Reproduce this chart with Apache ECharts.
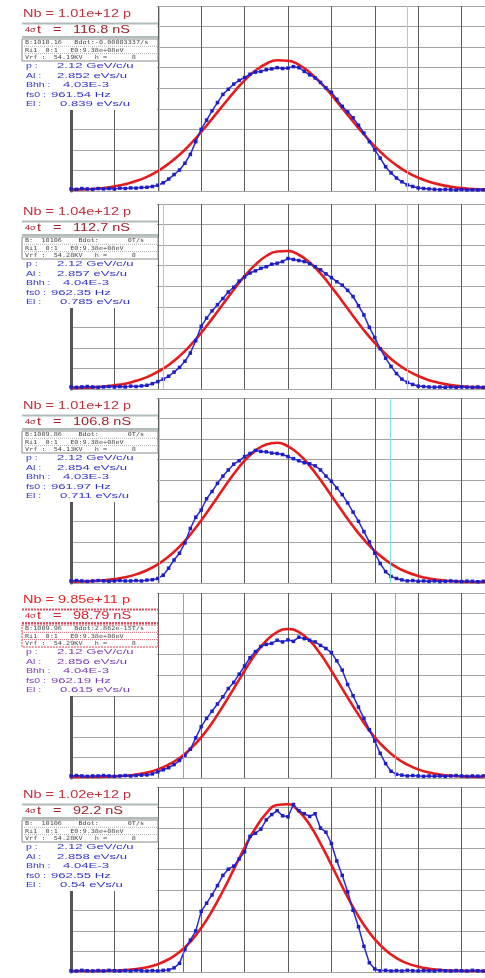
<!DOCTYPE html>
<html><head><meta charset="utf-8">
<script src="https://cdn.jsdelivr.net/npm/echarts@6/dist/echarts.min.js"></script>
<style>html,body{margin:0;padding:0;background:#fff}#c{width:485px;height:978px}</style>
</head><body><div id="c"></div>
<script>
// time axis (ns) of measured profile points
const xsMeas = [-100,-97.5,-95,-92.5,-90,-87.5,-85,-82.5,-80,-77.5,
 -75,-72.5,-70,-67.5,-65,-62.5,-60,-57.5,-55,-52.5,
 -50,-47.5,-45,-42.5,-40,-37.5,-35,-32.5,-30,-27.5,
 -25,-22.5,-20,-17.5,-15,-12.5,-10,-7.5,-5,-2.5,
 0,2.5,5,7.5,10,12.5,15,17.5,20,22.5,
 25,27.5,30,32.5,35,37.5,40,42.5,45,47.5,
 50,52.5,55,57.5,60,62.5,65,67.5,70,72.5,
 75,77.5,80,82.5,85,87.5,90];
// time axis (ns) of fitted curve points
const xsFit = [-100,-95,-90,-85,-80,-75,-70,-65,-60,-55,-50,-45,-40,-35,-30,-25,-20,-15,-10,-5,
 0,5,10,15,20,25,30,35,40,45,50,55,60,65,70,75,80,85,90];

const meas1 = [0.1,0.08,0.12,0.1,0.08,0.12,0.1,0.12,0.1,0.14,
 0.12,0.15,0.14,0.17,0.18,0.22,0.28,0.4,0.58,0.8,
 1.02,1.35,1.78,2.4,3.0,3.45,3.9,4.3,4.7,4.95,
 5.2,5.38,5.52,5.68,5.78,5.82,5.9,5.94,6.0,5.96,
 5.98,6.05,6.0,5.82,5.65,5.5,5.28,5.02,4.8,4.46,
 4.12,3.85,3.56,3.2,2.82,2.4,2.0,1.6,1.18,0.88,
 0.63,0.45,0.3,0.22,0.15,0.12,0.1,0.08,0.06,0.08,
 0.06,0.05,0.07,0.05,0.06,0.05,0.06];
const meas2 = [0.1,0.08,0.1,0.12,0.1,0.08,0.1,0.12,0.1,0.12,
 0.1,0.14,0.12,0.15,0.18,0.26,0.36,0.48,0.62,0.82,
 1.05,1.35,1.75,2.35,3.05,3.45,3.8,4.1,4.4,4.72,
 4.95,5.25,5.45,5.64,5.75,5.87,5.95,6.07,6.12,6.2,
 6.35,6.3,6.25,6.2,6.1,5.95,5.8,5.6,5.42,5.22,
 5.05,4.8,4.5,4.05,3.6,3.0,2.5,1.96,1.5,1.1,
 0.75,0.48,0.32,0.22,0.14,0.12,0.1,0.09,0.1,0.08,
 0.1,0.08,0.1,0.09,0.08,0.1,0.08];
const meas3 = [0.1,0.12,0.1,0.08,0.1,0.12,0.1,0.08,0.1,0.12,
 0.1,0.1,0.12,0.1,0.14,0.16,0.22,0.38,0.72,1.12,
 1.45,1.95,2.65,3.2,3.55,4.1,4.45,4.85,5.2,5.5,
 5.78,5.95,6.15,6.3,6.45,6.4,6.38,6.32,6.3,6.25,
 6.15,6.05,5.95,5.85,5.8,5.7,5.5,5.2,4.95,4.62,
 4.3,3.9,3.45,3.0,2.5,2.0,1.45,0.95,0.55,0.32,
 0.22,0.15,0.1,0.12,0.08,0.1,0.08,0.1,0.07,0.08,
 0.1,0.08,0.07,0.09,0.08,0.06,0.08];
const meas4 = [0.1,0.12,0.1,0.08,0.1,0.1,0.12,0.1,0.08,0.1,
 0.12,0.1,0.12,0.14,0.15,0.2,0.3,0.4,0.5,0.65,
 0.85,1.1,1.4,1.95,2.5,2.9,3.25,3.6,3.95,4.35,
 4.65,5.05,5.45,5.85,6.15,6.4,6.5,6.55,6.7,6.62,
 6.72,6.65,6.85,6.78,6.7,6.62,6.45,6.3,6.1,5.7,
 5.25,4.55,4.0,3.45,2.9,2.35,1.8,1.2,0.7,0.33,
 0.18,0.14,0.1,0.12,0.1,0.08,0.1,0.09,0.1,0.08,
 0.1,0.12,0.1,0.08,0.1,0.09,0.1];
const meas5 = [0.06,0.05,0.08,0.06,0.05,0.07,0.05,0.08,0.06,0.05,
 0.07,0.05,0.08,0.06,0.05,0.07,0.05,0.08,0.1,0.2,
 0.42,1.1,1.55,2.0,2.95,3.35,3.75,4.2,4.7,5.0,
 5.15,5.5,5.85,6.6,6.75,6.95,7.4,7.66,7.85,7.6,
 7.55,8.15,7.85,7.7,7.57,7.7,7.0,6.8,6.25,5.4,
 4.7,3.9,3.0,2.2,1.25,0.45,0.15,0.06,0.08,0.05,
 0.07,0.05,0.08,0.06,0.05,0.07,0.06,0.05,0.08,0.06,
 0.05,0.07,0.06,0.05,0.08,0.06,0.05];

const fit1 = [0.06,0.07,0.1,0.15,0.23,0.33,0.49,0.69,0.97,1.33,1.76,2.28,2.87,3.51,4.16,4.8,5.38,5.86,6.19,6.36,
 6.34,6.14,5.77,5.27,4.68,4.03,3.38,2.75,2.17,1.67,1.25,0.91,0.65,0.45,0.31,0.21,0.14,0.1,0.07];
const fit2 = [0.05,0.06,0.08,0.12,0.18,0.26,0.4,0.58,0.84,1.17,1.6,2.12,2.73,3.41,4.12,4.83,5.49,6.05,6.47,6.69,
 6.71,6.53,6.15,5.62,4.97,4.27,3.55,2.86,2.24,1.7,1.25,0.9,0.63,0.43,0.29,0.19,0.13,0.09,0.06];
const fit3 = [0.06,0.07,0.09,0.13,0.19,0.28,0.42,0.62,0.91,1.29,1.77,2.36,3.04,3.79,4.56,5.3,5.95,6.44,6.74,6.82,
 6.65,6.27,5.7,5.01,4.25,3.49,2.76,2.11,1.56,1.12,0.77,0.52,0.34,0.22,0.14,0.09,0.06,0.05,0.05];
const fit4 = [0.05,0.05,0.05,0.06,0.08,0.11,0.17,0.27,0.42,0.65,0.97,1.42,1.98,2.68,3.49,4.35,5.22,6.03,6.68,7.1,
 7.25,7.1,6.68,6.03,5.22,4.35,3.49,2.68,1.98,1.42,0.97,0.65,0.42,0.27,0.17,0.11,0.08,0.06,0.05];
const fit5 = [0.05,0.05,0.05,0.06,0.07,0.09,0.15,0.23,0.38,0.62,0.97,1.47,2.14,2.97,3.94,4.99,6.05,6.99,7.72,8.12,
 8.16,7.82,7.16,6.25,5.21,4.15,3.15,2.29,1.59,1.06,0.68,0.42,0.26,0.16,0.1,0.07,0.06,0.05,0.05];

// cursor positions (ns)
const cursors1 = [-59.4, 54.8];
const cursors2 = [-57.6, 54.8];
const cursors3 = [-59.4, 47.0];
const cursors4 = [-48.4, 49.3];
const cursors5 = [-48.4, 42.9];

// texts
const nbTexts = ['Nb = 1.01e+12 p','Nb = 1.04e+12 p','Nb = 1.01e+12 p','Nb = 9.85e+11 p','Nb = 1.02e+12 p'];
const sigmaTexts = ['116.8 nS','112.7 nS','106.8 nS','98.79 nS','92.2 nS'];
const bRows = ['B:1010.16   Bdot:-0.00083337/s','B:  10106    Bdot:       0T/s','B:1009.86    Bdot:       0T/s','B:1009.96   Bdot:2.862e-15T/s','B:  10106    Bdot:       0T/s'];
const riRows = ['Ri1  0:1   E0:9.38e+08eV','Ri1  0:1   E0:9.38e+08eV','Ri1  0:1   E0:9.38e+08eV','Ri1  0:1   E0:9.38e+08eV','Ri1  0:1   E0:9.38e+08eV'];
const vrfRows = ['Vrf :  54.19KV   h =      8','Vrf :  54.28KV   h =      8','Vrf :  54.13KV   h =      8','Vrf :  54.29KV   h =      8','Vrf :  54.28KV   h =      8'];
const paramLabels = ['p :','Al :','Bhh :','fs0 :','El :'];
const pVals = ['2.12 GeV/c/u','2.12 GeV/c/u','2.12 GeV/c/u','2.12 GeV/c/u','2.12 GeV/c/u'];
const alVals = ['2.852 eVs/u','2.857 eVs/u','2.854 eVs/u','2.856 eVs/u','2.858 eVs/u'];
const bhhVals = ['4.03E-3','4.04E-3','4.03E-3','4.04E-3','4.04E-3'];
const fs0Vals = ['961.54 Hz','962.35 Hz','961.97 Hz','962.19 Hz','962.55 Hz'];
const elVals = ['0.839 eVs/u','0.785 eVs/u','0.711 eVs/u','0.615 eVs/u','0.54 eVs/u'];

const measAll = [meas1, meas2, meas3, meas4, meas5];
const fitAll = [fit1, fit2, fit3, fit4, fit5];
const cursorAll = [cursors1, cursors2, cursors3, cursors4, cursors5];

// layout
const panelTop = [6, 204, 398, 593, 787];
const panelH = 185;
const textY = [14, 212, 406, 600, 795];
const cursorColor = ['#7fdde6','#7fdde6','#7fdde6','#9a9ae6','#5a5ad8'];
const valX = [57, 57, 63, 51, 60];
const rowOff = [52, 61.5, 71, 80.5, 90];

const grids = [], xAxes = [], yAxes = [], series = [], graphics = [];
for (let i = 0; i < 5; i++) {
  grids.push({left: 71, right: 0, top: panelTop[i], height: panelH});
  xAxes.push({type:'value', gridIndex:i, min:-100, max:90.8, interval:20,
    axisLine:{show:false}, axisTick:{show:false}, axisLabel:{show:false},
    splitLine:{show:true, lineStyle:{color:'#5c5c5c', width:1}}});
  yAxes.push({type:'value', gridIndex:i, min:0, max:9, interval:1,
    axisLine:{show:true, onZero:false, lineStyle:{color:'#555', width:3}}, axisTick:{show:false}, axisLabel:{show:false},
    splitLine:{show:true, lineStyle:{color:'#a4a4a4', width:1}}});
  series.push({type:'line', xAxisIndex:i, yAxisIndex:i, z:3, smooth:true, symbol:'none',
    data: xsFit.map((x, k) => [x, fitAll[i][k]]),
    lineStyle:{color:'#e61c1c', width:2.6},
    markLine:{silent:true, symbol:'none', animation:false, label:{show:false},
      lineStyle:{color:cursorColor[i], width:1, type:'solid'},
      data: cursorAll[i].map(v => ({xAxis: v}))}});
  series.push({type:'line', xAxisIndex:i, yAxisIndex:i, z:4, symbol:'rect', symbolSize:3.5,
    data: xsMeas.map((x, k) => [x, measAll[i][k]]),
    lineStyle:{color:'#2a2ad4', width:1.5}, itemStyle:{color:'#1e1ec4'}});

  // text panel
  const ty = textY[i];
  const hi = (i === 3);
  const coverTop = i === 0 ? 0 : ty - 11;
  graphics.push({type:'rect', z:100, shape:{x:0, y:coverTop, width:157, height:ty + 96 - coverTop}, style:{fill:'#fff'}});
  const sepColor = hi ? '#e05060' : '#b0bcbc';
  graphics.push({type:'line', z:101, shape:{x1:22, y1:ty+9.5, x2:158, y2:ty+9.5}, style:{stroke:sepColor, lineWidth:2, lineDash: hi ? [2,1] : null}});
  graphics.push({type:'line', z:101, shape:{x1:22, y1:ty+23, x2:158, y2:ty+23}, style:{stroke:sepColor, lineWidth:2, lineDash: hi ? [2,1] : null}});
  graphics.push({type:'rect', z:101, shape:{x:22, y:ty+25, width:136, height:22}, style:{fill:'none', stroke: hi ? '#e04050' : '#8a8a8a', lineWidth:1, lineDash: hi ? [2,1] : null}});
  graphics.push({type:'line', z:101, shape:{x1:22, y1:ty+32.3, x2:158, y2:ty+32.3}, style:{stroke: hi ? '#e07080' : '#b0b0b0', lineWidth:1, lineDash:[1,1]}});
  graphics.push({type:'line', z:101, shape:{x1:22, y1:ty+39.6, x2:158, y2:ty+39.6}, style:{stroke: hi ? '#e07080' : '#b0b0b0', lineWidth:1, lineDash:[1,1]}});
  const nbColor = hi ? '#e82424' : '#c0303c';
  const sgColor = hi ? '#d02030' : '#a0202c';
  graphics.push({type:'text', z:102, x:23, y:ty, scaleX:1.45,
    style:{text:nbTexts[i], font:'10px "Liberation Sans"', fill:nbColor, verticalAlign:'middle', align:'left'}});
  graphics.push({type:'text', z:102, x:25, y:ty+16.5, scaleX:1.3,
    style:{text:'4σ', font:'7px "Liberation Sans"', fill:sgColor, verticalAlign:'middle', align:'left'}});
  graphics.push({type:'text', z:102, x:37, y:ty+16, scaleX:1.45,
    style:{text:'t', font:'10px "Liberation Sans"', fill:sgColor, verticalAlign:'middle', align:'left'}});
  graphics.push({type:'text', z:102, x:53, y:ty+16, scaleX:1.45,
    style:{text:'=', font:'10px "Liberation Sans"', fill:sgColor, verticalAlign:'middle', align:'left'}});
  graphics.push({type:'text', z:102, x:73, y:ty+16, scaleX:1.45,
    style:{text:sigmaTexts[i], font:'10px "Liberation Sans"', fill:sgColor, verticalAlign:'middle', align:'left'}});
  const smallRows = [bRows[i], riRows[i], vrfRows[i]];
  smallRows.forEach((t, r) => {
    graphics.push({type:'text', z:102, x:25, y:ty+28.8+r*7.3, scaleX:1.22,
      style:{text:t, font:'5.6px "DejaVu Sans Mono"', fill:'#4a4a4a', verticalAlign:'middle', align:'left'}});
  });
  const vals = [pVals[i], alVals[i], bhhVals[i], fs0Vals[i], elVals[i]];
  const pc = hi ? '#7a3cb4' : '#3434c8';
  for (let r = 0; r < 5; r++) {
    graphics.push({type:'text', z:102, x:26, y:ty+rowOff[r], scaleX:1.4,
      style:{text:paramLabels[r], font:'7.5px "Liberation Sans"', fill:pc, verticalAlign:'middle', align:'left'}});
    graphics.push({type:'text', z:102, x:valX[r], y:ty+rowOff[r], scaleX:1.75,
      style:{text:vals[r], font:'7.5px "Liberation Sans"', fill:pc, verticalAlign:'middle', align:'left'}});
  }
}

const chart = echarts.init(document.getElementById('c'));
chart.setOption({
  animation:false, backgroundColor:'#fff',
  grid: grids, xAxis: xAxes, yAxis: yAxes, series: series,
  graphic: {elements: graphics}
});
</script></body></html>
